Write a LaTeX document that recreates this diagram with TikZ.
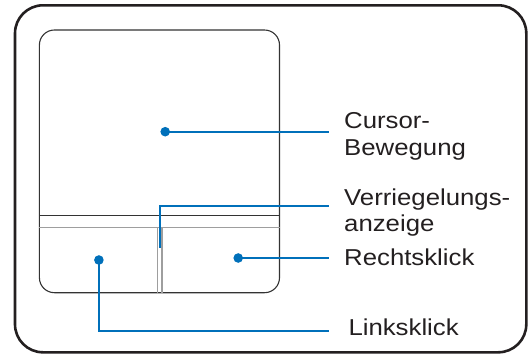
\documentclass[tikz,border=0pt]{standalone}
\usepackage{fontspec}
\newfontfamily\labfont[FakeStretch=1.12]{Liberation Sans}
\definecolor{tpblue}{HTML}{0070BA}
\definecolor{txt}{HTML}{231F20}
\begin{document}
\begin{tikzpicture}[x=1pt,y=-1pt,
  lbl/.style={font=\labfont\fontsize{23}{26}\selectfont, text=txt, anchor=base west, inner sep=0pt},
  dot/.style={circle, fill=tpblue, inner sep=0pt, minimum size=9.6pt},
  lead/.style={draw=tpblue, line width=1.6pt},
  frame/.style={line width=2.6pt, draw=txt, rounded corners=28pt},
  pad/.style={line width=1.1pt, draw=black!80, rounded corners=15pt},
  padline/.style={line width=1.1pt, draw=black!80},
  lightline/.style={line width=1.1pt, draw=black!38}
]
\useasboundingbox (0,0) rectangle (528,354);
% outer frame
\draw[frame] (15,5.3) rectangle (526.3,352.3);
% touchpad
\draw[pad] (39.4,30) rectangle (279.5,292.7);
\draw[padline] (39.4,215.7) -- (279.5,215.7);
\draw[lightline] (39.4,227.3) -- (279.5,227.3);
\draw[lightline] (157.3,227.3) -- (157.3,292.7);
\draw[lightline] (162,227.3) -- (162,292.7);
% leader points
\node[dot] (dc) at (165.2,131.7) {};
\node[dot] (dr) at (238.2,258) {};
\node[dot] (dl) at (98.9,260) {};
\coordinate (vs) at (160,247.5);
\coordinate (ec) at (328.5,131.7);
\coordinate (ev) at (328.5,205.7);
\coordinate (er) at (328.5,258);
\coordinate (el) at (328.5,331);
% leaders
\draw[lead] (dc.center) -- (ec);
\draw[lead] (vs) |- (ev);
\draw[lead] (dr.center) -- (er);
\draw[lead] (dl.center) |- (el);
% labels
\node[lbl] (t1) at (344,128.3) {Cursor-};
\node[lbl] (t1b) at (344,155) {Bewegung};
\node[lbl] (t2) at (344,205) {Verriegelungs-};
\node[lbl] (t2b) at (344,231.5) {anzeige};
\node[lbl] (t3) at (344,265) {Rechtsklick};
\node[lbl] (t4) at (348.3,335) {Linksklick};
\end{tikzpicture}
\end{document}
